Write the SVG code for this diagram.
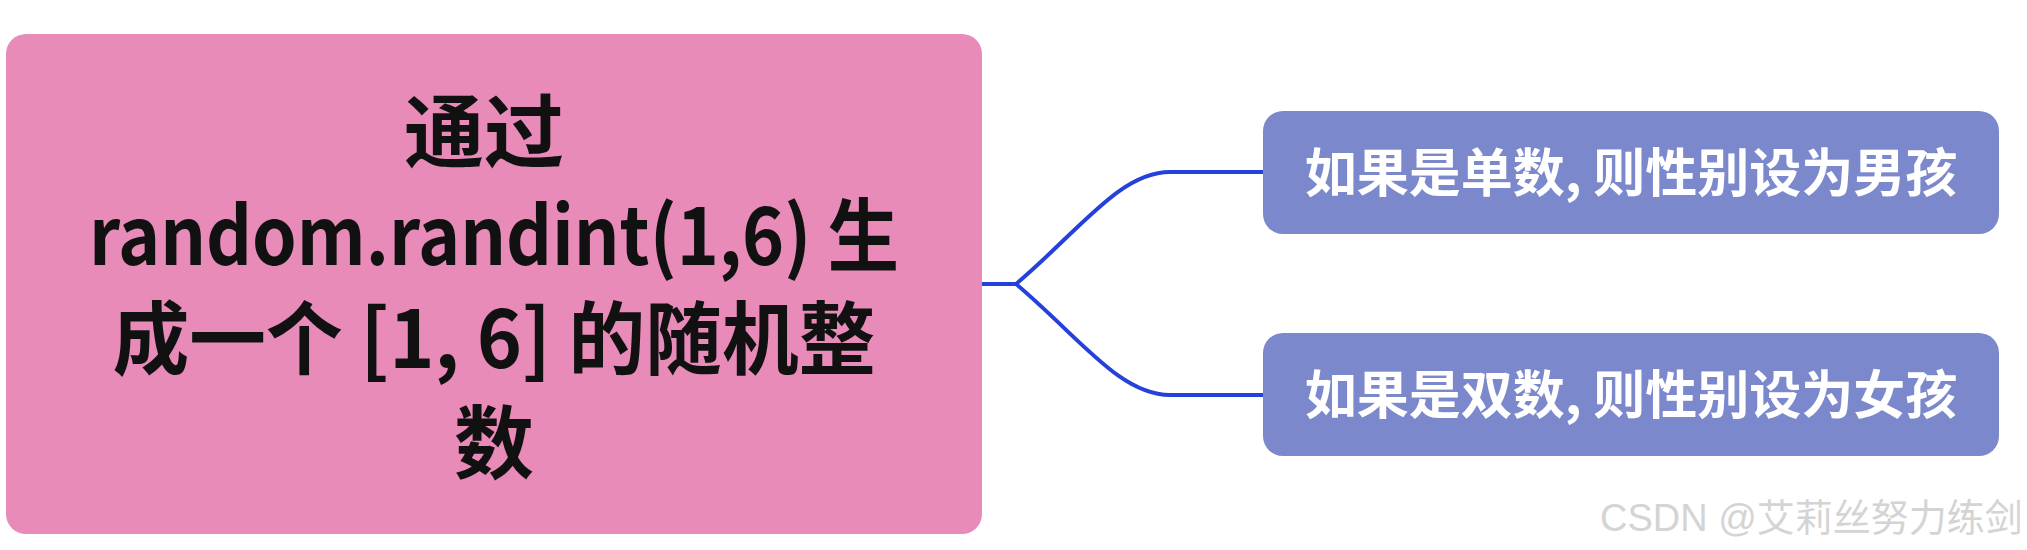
<svg xmlns="http://www.w3.org/2000/svg" width="2027" height="550" viewBox="0 0 2027 550">
<style>
.root{fill:#e88bb9}
.sub{fill:#7b88cb}
.rt{font-family:"Noto Sans CJK SC","Noto Sans",sans-serif;font-weight:bold;font-size:80px;fill:#111;text-anchor:middle}
.st{font-family:"Noto Sans CJK SC","Noto Sans",sans-serif;font-weight:bold;font-size:52px;fill:#fff;text-anchor:middle}
.conn{fill:none;stroke:#2541d9;stroke-width:4}
.wm{font-family:"Liberation Sans","Noto Sans CJK SC",sans-serif;font-size:38px;fill:#d4d4d4}
</style>
<rect width="2027" height="550" fill="#fff"/>
<g id="connectors">
<path class="conn" d="M982 284 H1016 C1080 230 1120 172 1170 172 H1263"/>
<path class="conn" d="M1016 284 C1080 338 1120 395 1170 395 H1263"/>
</g>
<g id="node-root">
<rect class="root" x="6" y="34" width="976" height="500" rx="20"/>
<text class="rt"><tspan x="484" y="161">通过</tspan><tspan x="494" y="265" textLength="810" lengthAdjust="spacingAndGlyphs">random.randint(1,6) 生</tspan><tspan x="494" y="368" textLength="763" lengthAdjust="spacingAndGlyphs">成一个 [1, 6] 的随机整</tspan><tspan x="494" y="472">数</tspan></text>
</g>
<g id="node-odd">
<rect class="sub" x="1263" y="111" width="736" height="123" rx="20"/>
<text class="st" x="1631" y="192">如果是单数, 则性别设为男孩</text>
</g>
<g id="node-even">
<rect class="sub" x="1263" y="333" width="736" height="123" rx="20"/>
<text class="st" x="1631" y="414">如果是双数, 则性别设为女孩</text>
</g>
<text class="wm" x="1600" y="531">CSDN @艾莉丝努力练剑</text>
</svg>
